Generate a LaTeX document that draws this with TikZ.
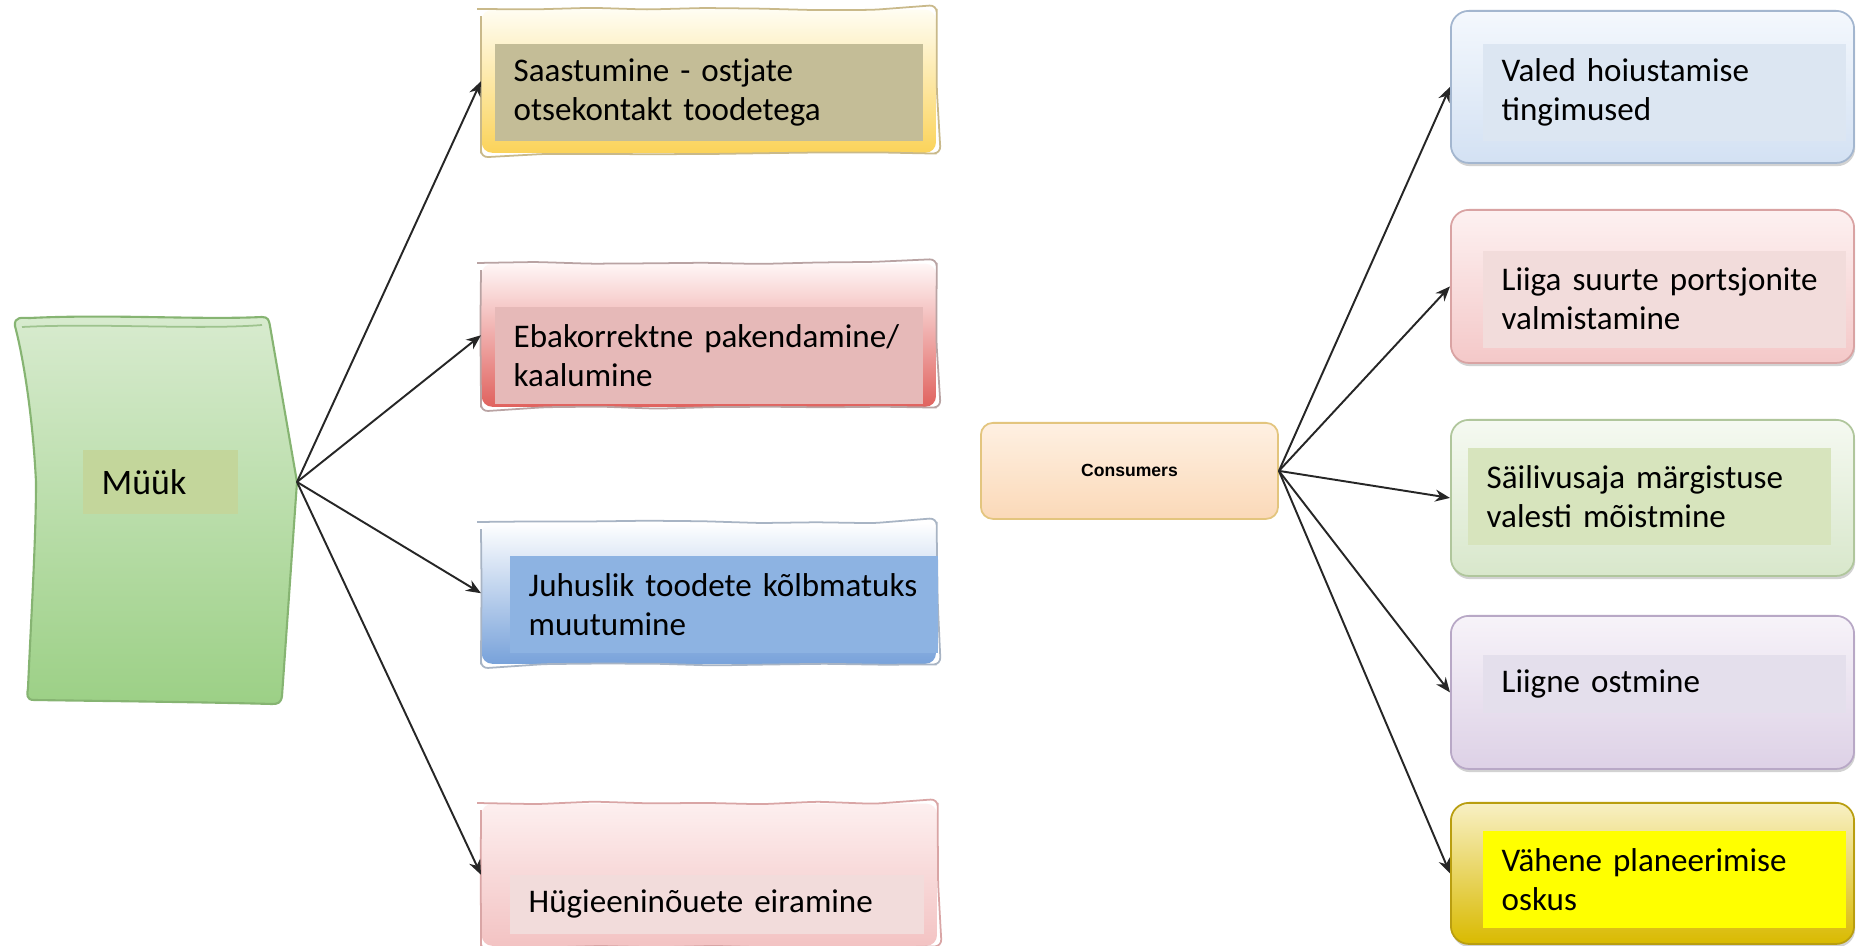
\documentclass[tikz,border=0pt]{standalone}
\usepackage{fontspec}
\setmainfont{Carlito}
\newfontfamily\headfont{Liberation Sans}
\usetikzlibrary{arrows.meta,shadows,decorations.pathmorphing}

% label fills
\definecolor{labSaast}{HTML}{C4BD97}
\definecolor{labEbak}{HTML}{E6B9B8}
\definecolor{labJuhus}{HTML}{8DB3E2}
\definecolor{labHyg}{HTML}{F2DCDB}
\definecolor{labMuuk}{HTML}{C3D69B}
\definecolor{labValed}{HTML}{DCE6F2}
\definecolor{labLiiga}{HTML}{F2DCDB}
\definecolor{labSaili}{HTML}{D7E4BD}
\definecolor{labLiigne}{HTML}{E4DFEC}
\definecolor{labVahene}{HTML}{FFFF00}
% box shadings
\definecolor{yTop}{HTML}{FFFDF2}\definecolor{yMid}{HTML}{FFF3C6}\definecolor{yBot}{HTML}{FBD35A}\definecolor{yEdge}{HTML}{C9B98A}
\definecolor{rTop}{HTML}{FFF6F6}\definecolor{rMid}{HTML}{F4B6B4}\definecolor{rBot}{HTML}{E0625E}\definecolor{rEdge}{HTML}{B9A3A3}
\definecolor{bTop}{HTML}{FFFFFF}\definecolor{bMid}{HTML}{DCE7F5}\definecolor{bBot}{HTML}{78A2DA}\definecolor{bEdge}{HTML}{A8B4C4}
\definecolor{pTop}{HTML}{FDEFEF}\definecolor{pBot}{HTML}{F3C3C3}\definecolor{pEdge}{HTML}{D9A5A5}
\definecolor{gTop}{HTML}{D8EBCF}\definecolor{gBot}{HTML}{9CD086}\definecolor{gEdge}{HTML}{86B472}
\definecolor{cTop}{HTML}{FEF0E2}\definecolor{cBot}{HTML}{FBD9B8}\definecolor{cEdge}{HTML}{E3C57E}
\definecolor{r1Top}{HTML}{F4F8FD}\definecolor{r1Bot}{HTML}{D3E1F3}\definecolor{r1Edge}{HTML}{A3B6CF}
\definecolor{r2Top}{HTML}{FDF1F1}\definecolor{r2Bot}{HTML}{F4C8C8}\definecolor{r2Edge}{HTML}{D9A3A3}
\definecolor{r3Top}{HTML}{F5F9F1}\definecolor{r3Bot}{HTML}{D8E7CB}\definecolor{r3Edge}{HTML}{B0C69C}
\definecolor{r4Top}{HTML}{F7F3F9}\definecolor{r4Bot}{HTML}{DDD1E6}\definecolor{r4Edge}{HTML}{B8A8C6}
\definecolor{r5Top}{HTML}{F8F0C4}\definecolor{r5Mid}{HTML}{E3C600}\definecolor{r5Bot}{HTML}{D9BA00}\definecolor{r5Edge}{HTML}{B99E10}

\begin{document}
\begin{tikzpicture}[x=0.01cm,y=-0.01cm,
  lab/.style={anchor=north west, inner xsep=0.19cm, inner ysep=0pt, align=left,
              font=\fontsize{9.4}{11.1}\selectfont, text=black},
  box/.style={anchor=north west, inner sep=0pt, rectangle},
  rbox/.style={box, rounded corners=0.18cm, draw=#1, line width=0.5pt,
               drop shadow={shadow xshift=0.3pt, shadow yshift=-0.9pt, opacity=0.35}},
  sketch/.style={draw=#1, line width=0.5pt, decorate,
                 decoration={random steps, segment length=16pt, amplitude=0.4pt},
                 rounded corners=2pt},
  arr/.style={-{Stealth[length=4.2pt,width=3.4pt]}, line width=0.55pt, black!85}
]
\pgfmathsetseed{11}
\useasboundingbox (0,0) rectangle (1856,946);
\fill[white] (0,0) rectangle (1856,946);

% ---- Müük (hand-drawn banner, left side bowed in, right side pointed) ----
\shade[top color=gTop, bottom color=gBot, draw=gEdge, line width=0.6pt, line join=round]
  (36,482) .. controls (33,420) and (24,360) .. (15,326)
  .. controls (14,316) and (22,318) .. (30,318)
  .. controls (110,314) and (200,320) .. (262,317)
  .. controls (268,317) and (269,320) .. (270,326)
  -- (297,482) -- (282,696)
  .. controls (281,703) and (278,704) .. (272,704)
  .. controls (200,702) and (100,701) .. (34,700)
  .. controls (26,700) and (27,694) .. (28,688)
  .. controls (31,620) and (36,540) .. cycle;
\draw[gEdge!80, line width=0.5pt] (22,327) .. controls (100,323) and (200,330) .. (262,325);
\coordinate (mk) at (297,482);
\node[lab, fill=labMuuk, text width=1.17cm, minimum height=0.64cm,
      font=\fontsize{10.2}{12}\selectfont] (mt) at (82,449) {Müük};

% ---- left column ----
\node[box, minimum width=4.54cm, minimum height=1.43cm, rounded corners=3pt,
      top color=yTop, middle color=yMid, bottom color=yBot] (s1) at (481,9) {};
\draw[sketch=yEdge] (s1.north west) rectangle (s1.south east);
\node[lab, fill=labSaast, text width=3.90cm, minimum height=0.97cm] (t1) at (494,43)
  {Saastumine - ostjate\\otsekontakt toodetega};

\node[box, minimum width=4.54cm, minimum height=1.43cm, rounded corners=3pt,
      top color=rTop, middle color=rMid, bottom color=rBot] (s2) at (481,263) {};
\draw[sketch=rEdge] (s2.north west) rectangle (s2.south east);
\node[lab, fill=labEbak, text width=3.90cm, minimum height=0.97cm] (t2) at (494,306)
  {Ebakorrektne pakendamine/\\kaalumine};

\node[box, minimum width=4.54cm, minimum height=1.41cm, rounded corners=3pt,
      top color=bTop, middle color=bMid, bottom color=bBot] (s3) at (481,522) {};
\draw[sketch=bEdge] (s3.north west) rectangle (s3.south east);
\node[lab, fill=labJuhus, text width=3.90cm, minimum height=0.97cm] (t3) at (509,555)
  {Juhuslik toodete kõlbmatuks\\muutumine};

\node[box, minimum width=4.55cm, minimum height=1.42cm, rounded corners=3pt,
      top color=pTop, bottom color=pBot] (s4) at (481,803) {};
\draw[sketch=pEdge] (s4.north west) rectangle (s4.south east);
\node[lab, fill=labHyg, text width=3.76cm, minimum height=0.59cm] (t4) at (509,874)
  {Hügieeninõuete eiramine};

\draw[arr] (mk) -- (s1.west);
\draw[arr] (mk) -- (s2.west);
\draw[arr] (mk) -- (s3.west);
\draw[arr] (mk) -- (s4.west);

% ---- Consumers ----
\node[box, minimum width=2.97cm, minimum height=0.96cm, rounded corners=0.12cm,
      draw=cEdge, line width=0.5pt, top color=cTop, bottom color=cBot,
      font=\headfont\bfseries\fontsize{5}{6}\selectfont] (co) at (980,422) {Consumers};

% ---- right column ----
\node[rbox=r1Edge, minimum width=4.03cm, minimum height=1.52cm,
      top color=r1Top, bottom color=r1Bot] (r1) at (1450,10) {};
\node[lab, fill=labValed, text width=3.25cm, minimum height=0.97cm] (l1) at (1482,43)
  {Valed hoiustamise\\tingimused};

\node[rbox=r2Edge, minimum width=4.03cm, minimum height=1.53cm,
      top color=r2Top, bottom color=r2Bot] (r2) at (1450,209) {};
\node[lab, fill=labLiiga, text width=3.25cm, minimum height=0.97cm] (l2) at (1482,250)
  {Liiga suurte portsjonite\\valmistamine};

\node[rbox=r3Edge, minimum width=4.03cm, minimum height=1.56cm,
      top color=r3Top, bottom color=r3Bot] (r3) at (1450,419) {};
\node[lab, fill=labSaili, text width=3.25cm, minimum height=0.97cm] (l3) at (1467,447)
  {Säilivusaja märgistuse\\valesti mõistmine};

\node[rbox=r4Edge, minimum width=4.03cm, minimum height=1.53cm,
      top color=r4Top, bottom color=r4Bot] (r4) at (1450,615) {};
\node[lab, fill=labLiigne, text width=3.25cm, minimum height=0.58cm] (l4) at (1482,654)
  {Liigne ostmine};

\node[rbox=r5Edge, minimum width=4.03cm, minimum height=1.41cm,
      top color=r5Top, middle color=r5Mid, bottom color=r5Bot] (r5) at (1450,802) {};
\node[lab, fill=labVahene, text width=3.25cm, minimum height=0.97cm] (l5) at (1482,830)
  {Vähene planeerimise\\oskus};

\draw[arr] (co.east) -- (r1.west);
\draw[arr] (co.east) -- (r2.west);
\draw[arr] (co.east) -- (r3.west);
\draw[arr] (co.east) -- (r4.west);
\draw[arr] (co.east) -- (r5.west);
\end{tikzpicture}
\end{document}
